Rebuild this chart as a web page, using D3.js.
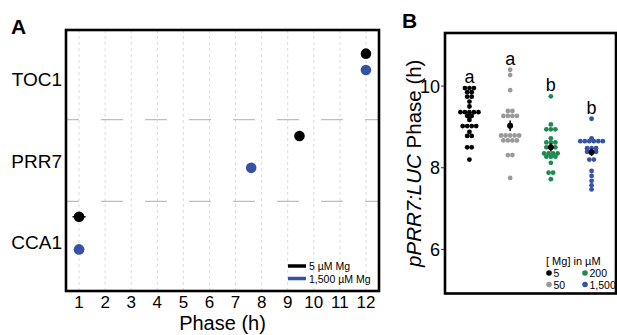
<!DOCTYPE html>
<html>
<head>
<meta charset="utf-8">
<script src="https://cdn.jsdelivr.net/npm/d3@7.9.0/dist/d3.min.js"></script>
<style>
  body { margin: 0; background: #fff; }
  svg { display: block; font-family: "Liberation Sans", Arial, sans-serif; }
</style>
</head>
<body>
<svg width="617" height="335"></svg>
<script>
// panel A: phase of each clock gene
const genes = ['CCA1', 'PRR7', 'TOC1'];
const phaseTicks = [1, 2, 3, 4, 5, 6, 7, 8, 9, 10, 11, 12];
const lowMgPhase = [1.0, 9.45, 12.0];
const lowMgErr = [0.25, 0.1, 0.1];
const lowMgRow = [1.31, 2.3, 3.31];
const highMgPhase = [1.0, 7.6, 12.0];
const highMgErr = [0.2, 0.1, 0.1];
const highMgRow = [0.91, 1.91, 3.11];
const legendA = ['5 µM Mg', '1,500 µM Mg'];

// panel B: pPRR7:LUC phase per Mg level (binned dots)
const mgLevels = ['5', '50', '200', '1,500'];
const phase5 = [9.95, 9.95, 9.95, 9.85, 9.85, 9.74, 9.74, 9.62, 9.5, 9.36, 9.36, 9.36, 9.36, 9.36,
  9.27, 9.27, 9.17, 9.02, 9.02, 9.02, 9.02, 8.88, 8.78, 8.78, 8.5, 8.5, 8.2];
const phase50 = [10.4, 10.27, 9.9, 9.39, 9.39, 9.27, 9.27, 9.27, 9.27, 9.05, 8.79, 8.79, 8.79, 8.79, 8.79,
  8.67, 8.67, 8.67, 8.67, 8.31, 8.31, 7.75];
const phase200 = [9.75, 9.06, 8.94, 8.94, 8.94, 8.72, 8.62, 8.62, 8.62, 8.5, 8.5, 8.5, 8.35, 8.35, 8.35, 8.35,
  8.27, 8.27, 8.27, 8.12, 7.88, 7.88, 7.72];
const phase1500 = [9.2, 8.72, 8.65, 8.65, 8.65, 8.65, 8.65, 8.65, 8.48, 8.48, 8.48, 8.39, 8.39, 8.39,
  8.2, 8.2, 7.92, 7.8, 7.68, 7.57, 7.47];
const groupMeans = [9.27, 9.03, 8.5, 8.38];
const groupSE = [0.09, 0.13, 0.1, 0.09];
const letters = ['a', 'a', 'b', 'b'];
const ticksB = [6, 8, 10];

const black = '#000000', blue = '#3652a6', gray = '#9a9a9a', green = '#1d8a4f';
const svg = d3.select('svg');

// ---------- panel A ----------
const xA = d3.scaleLinear().domain([0.5, 12.5]).range([66, 379]);
const yA = d3.scaleLinear().domain([0.4, 3.6]).range([291, 30]);
const gA = svg.append('g');

phaseTicks.forEach(t => {
  gA.append('line')
    .attr('x1', xA(t)).attr('x2', xA(t))
    .attr('y1', yA(3.6)).attr('y2', yA(0.4))
    .attr('stroke', '#dcdcdc').attr('stroke-width', 1)
    .attr('stroke-dasharray', '3,3');
});

[1.5, 2.5].forEach(s => {
  gA.append('line')
    .attr('x1', xA(0.5)).attr('x2', xA(12.5))
    .attr('y1', yA(s)).attr('y2', yA(s))
    .attr('stroke', '#bdbdbd').attr('stroke-width', 1.2)
    .attr('stroke-dasharray', '22,22').attr('stroke-dashoffset', 9);
});

function drawSeries(phase, err, row, color) {
  phase.forEach((p, i) => {
    gA.append('line')
      .attr('x1', xA(p - err[i])).attr('x2', xA(p + err[i]))
      .attr('y1', yA(row[i])).attr('y2', yA(row[i]))
      .attr('stroke', color).attr('stroke-width', 1.5);
    gA.append('circle')
      .attr('cx', xA(p)).attr('cy', yA(row[i])).attr('r', 5.3)
      .attr('fill', color);
  });
}
drawSeries(lowMgPhase, lowMgErr, lowMgRow, black);
drawSeries(highMgPhase, highMgErr, highMgRow, blue);

gA.append('rect')
  .attr('x', xA(0.5)).attr('y', yA(3.6))
  .attr('width', xA(12.5) - xA(0.5)).attr('height', yA(0.4) - yA(3.6))
  .attr('fill', 'none').attr('stroke', '#000').attr('stroke-width', 2.6);

phaseTicks.forEach(t => {
  gA.append('text')
    .attr('x', xA(t)).attr('y', 308)
    .attr('text-anchor', 'middle').attr('font-size', 17)
    .text(t);
});
gA.append('text')
  .attr('x', (xA(0.5) + xA(12.5)) / 2).attr('y', 330)
  .attr('text-anchor', 'middle').attr('font-size', 20)
  .text('Phase (h)');

genes.forEach((g, i) => {
  gA.append('text')
    .attr('x', 62).attr('y', yA(i + 1) + 7)
    .attr('text-anchor', 'end').attr('font-size', 19)
    .text(g);
});

[black, blue].forEach((c, i) => {
  gA.append('line')
    .attr('x1', 288).attr('x2', 306)
    .attr('y1', 266 + i * 12.5).attr('y2', 266 + i * 12.5)
    .attr('stroke', c).attr('stroke-width', 3.5);
  gA.append('text')
    .attr('x', 309).attr('y', 270 + i * 12.5)
    .attr('font-size', 10.5)
    .text(legendA[i]);
});

svg.append('text').attr('x', 11).attr('y', 34)
  .attr('font-size', 21).attr('font-weight', 'bold').text('A');

// ---------- panel B ----------
const xB = d3.scaleLinear().domain([0.4, 4.6]).range([445, 616]);
const yB = d3.scaleLinear().domain([4.92, 11.3]).range([293.5, 33]);
const gB = svg.append('g');
const groups = [phase5, phase50, phase200, phase1500];
const colors = [black, gray, green, blue];
const step = 4.5;

groups.forEach((vals, gi) => {
  const cx = xB(gi + 1);
  const rows = d3.group(vals, v => v);
  rows.forEach((rowVals, v) => {
    rowVals.forEach((_, k) => {
      gB.append('circle')
        .attr('cx', cx + (k - (rowVals.length - 1) / 2) * step)
        .attr('cy', yB(v)).attr('r', 2.4)
        .attr('fill', colors[gi]);
    });
  });
  gB.append('line')
    .attr('x1', cx).attr('x2', cx)
    .attr('y1', yB(groupMeans[gi] - groupSE[gi])).attr('y2', yB(groupMeans[gi] + groupSE[gi]))
    .attr('stroke', '#000').attr('stroke-width', 1.5);
  gB.append('circle')
    .attr('cx', cx).attr('cy', yB(groupMeans[gi])).attr('r', 3)
    .attr('fill', '#000');
  gB.append('text')
    .attr('x', cx).attr('y', yB(d3.max(vals)) - 5)
    .attr('text-anchor', 'middle').attr('font-size', 18)
    .text(letters[gi]);
});

gB.append('rect')
  .attr('x', xB(0.4)).attr('y', yB(11.3))
  .attr('width', xB(4.6) - xB(0.4)).attr('height', yB(4.92) - yB(11.3))
  .attr('fill', 'none').attr('stroke', '#000').attr('stroke-width', 2.6);

ticksB.forEach(t => {
  gB.append('line')
    .attr('x1', 441).attr('x2', 444)
    .attr('y1', yB(t)).attr('y2', yB(t))
    .attr('stroke', '#333').attr('stroke-width', 1);
  gB.append('text')
    .attr('x', 440).attr('y', yB(t) + 6.5)
    .attr('text-anchor', 'end').attr('font-size', 18)
    .text(t);
});

const yTitle = gB.append('text')
  .attr('transform', `translate(421,${(yB(11.3) + yB(4.92)) / 2}) rotate(-90)`)
  .attr('text-anchor', 'middle').attr('font-size', 20.5);
yTitle.append('tspan').attr('font-style', 'italic').text('pPRR7:LUC');
yTitle.append('tspan').text(' Phase (h)');

// legend B: 5 and 200 on the first row, 50 and 1,500 on the second
gB.append('text').attr('x', 546).attr('y', 265)
  .attr('font-size', 11).text('[ Mg] in µM');
const legX = [549, 549, 585, 585];
const legY = [273, 284.5, 273, 284.5];
mgLevels.forEach((m, i) => {
  gB.append('circle').attr('cx', legX[i]).attr('cy', legY[i]).attr('r', 2.8).attr('fill', colors[i]);
  gB.append('text').attr('x', legX[i] + 4.5).attr('y', legY[i] + 4)
    .attr('font-size', 10.5).text(m);
});

svg.append('text').attr('x', 402).attr('y', 28)
  .attr('font-size', 21).attr('font-weight', 'bold').text('B');
</script>
</body>
</html>
